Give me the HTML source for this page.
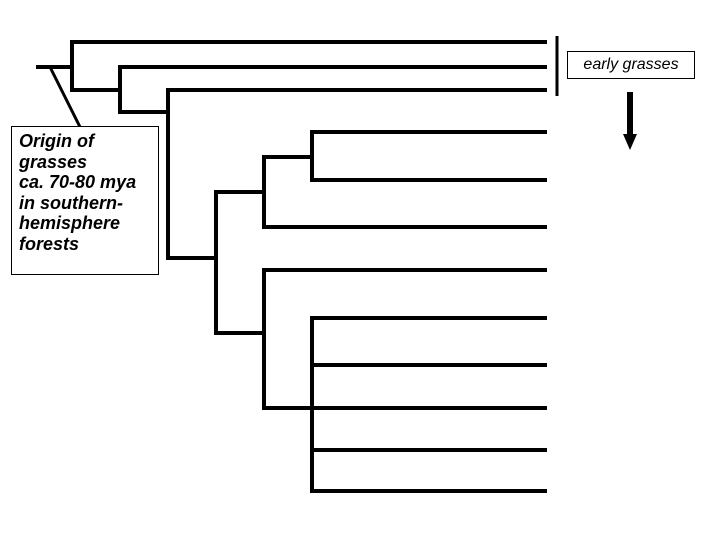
<!DOCTYPE html>
<html><head><style>
body{margin:0;background:#fff;width:720px;height:540px;overflow:hidden;position:relative;font-family:"Liberation Sans",sans-serif}
.box{position:absolute;border:1px solid #000;background:#fff;font-style:italic;font-weight:bold;}
</style></head><body>
<svg width="720" height="540" style="position:absolute;left:0;top:0" stroke="#000" stroke-width="4" fill="none">
<path d="M36 67H72 M72 40V92 M70 42H547 M70 90H120 M120 65V114 M118 67H547 M118 112H168 M168 88V260 M166 90H547 M166 258H216 M216 190V335 M214 192H264 M264 155V229 M262 157H312 M312 130V182 M310 132H547 M310 180H547 M262 227H547 M214 333H264 M264 268V410 M262 270H547 M262 408H547 M312 316V493 M310 318H547 M310 365H547 M310 450H547 M310 491H547"/>
<line x1="50" y1="67" x2="80" y2="127" stroke-width="3"/>
<line x1="557" y1="36" x2="557" y2="96" stroke-width="3"/>
<line x1="630" y1="92" x2="630" y2="136" stroke-width="6"/>
<polygon points="623,134 637,134 630,150" fill="#000" stroke="none"/>
</svg>
<div class="box" style="left:11px;top:126px;width:139px;height:143px;padding:4px 0 0 7px;font-size:18px;line-height:20.5px;font-weight:bold">Origin of<br>grasses<br>ca. 70-80 mya<br>in southern-<br>hemisphere<br>forests</div>
<div class="box" style="left:567px;top:51px;width:126px;height:26px;font-size:16px;font-weight:normal;line-height:26px;text-align:center">early grasses</div>
</body></html>
